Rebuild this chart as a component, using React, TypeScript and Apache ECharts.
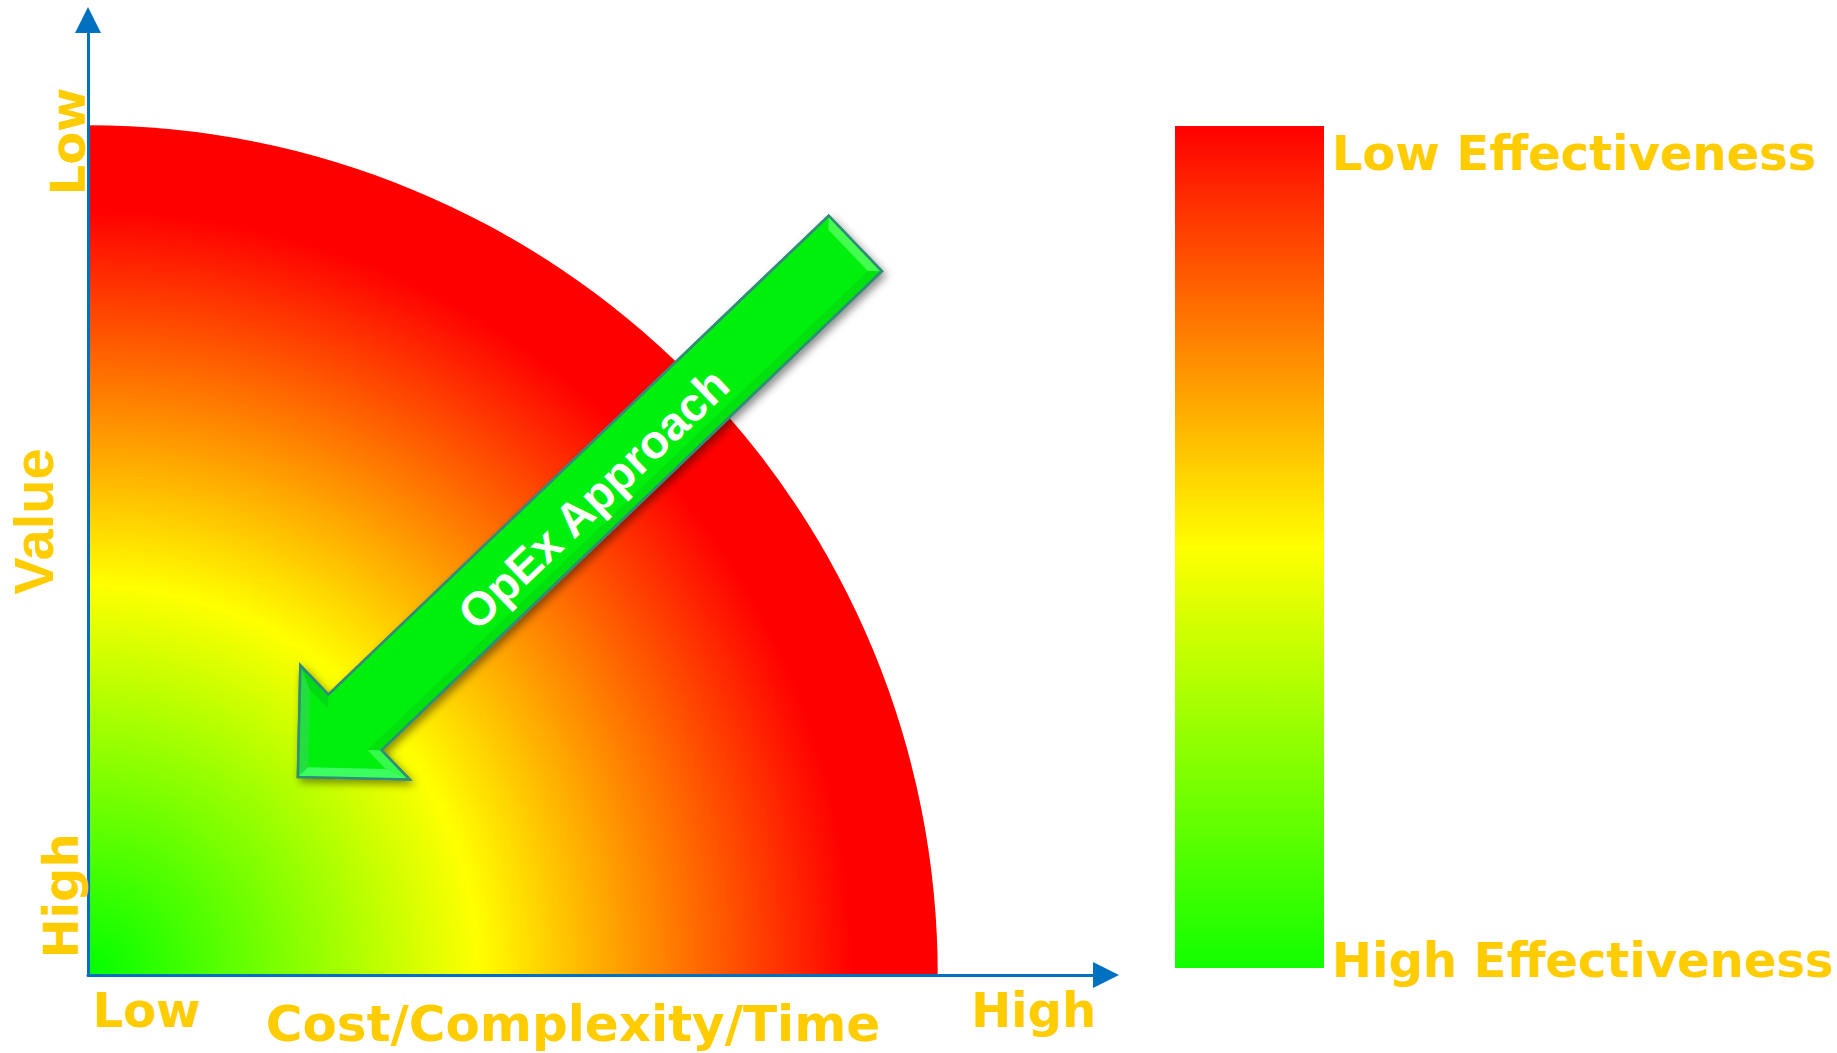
import React, { useEffect, useRef } from 'react';
import * as echarts from 'echarts';

// ---------- data (axis units: percent of the quarter-circle radius) ----------
const xAxisMax = 119.8;
const yAxisMax = 112.4;
const xTickValues = [6.9, 111.3];
const xTickLabels = ['Low', 'High'];
const yTickValues = [9.3, 98.1];
const yTickLabels = ['High', 'Low'];
const xAxisName = 'Cost/Complexity/Time';
const yAxisName = 'Value';

// quarter circle: [centerX, centerY, radius]
const frontier = [[0, 0, 100]];
const frontierStops: [number, string][] = [
  [0, '#00ff00'],
  [0.46, '#ffff00'],
  [0.9, '#ff0000'],
  [1, '#ff0000'],
];

// arrow: [tailX, tailY, tipX, tipY]
const arrowData = [[90.3, 86.1, 24.7, 23.3]];
const arrowLabel = 'OpEx Approach';

// legend bar
const legendLabels = ['Low Effectiveness', 'High Effectiveness'];
const legendStops: [number, string][] = [
  [0, '#ff0000'],
  [0.5, '#ffff00'],
  [1, '#11ff00'],
];

// ---------- styles ----------
const GOLD = '#ffcc00';
const BLUE = '#0070c0';
const DEJAVU = '"DejaVu Sans", Verdana, sans-serif';
const ARIAL = '"Liberation Sans", Arial, Helvetica, sans-serif';

function nearestIndex(values: number[], v: number) {
  let best = 0;
  for (let i = 1; i < values.length; i++) {
    if (Math.abs(values[i] - v) < Math.abs(values[best] - v)) best = i;
  }
  return best;
}

export default function App() {
  const ref = useRef<HTMLDivElement>(null);

  useEffect(() => {
    if (!ref.current) return;
    const chart = echarts.init(ref.current, undefined, { renderer: 'svg' });

    const labelRich = {
      a: { color: GOLD, fontFamily: DEJAVU, fontWeight: 'bold', fontSize: 48, lineHeight: 48 },
      b: { color: GOLD, fontFamily: DEJAVU, fontWeight: 'bold', fontSize: 48, lineHeight: 62 },
    };

    const option: any = {
      animation: false,
      backgroundColor: '#ffffff',
      grid: {
        left: 88,
        top: 20,
        width: 1018,
        height: 955,
        containLabel: false,
        outerBoundsMode: 'none',
      },
      xAxis: {
        type: 'value',
        min: 0,
        max: xAxisMax,
        z: 5,
        name: xAxisName,
        nameLocation: 'middle',
        nameGap: 24,
        nameMoveOverlap: false,
        nameTextStyle: {
          color: GOLD,
          fontFamily: DEJAVU,
          fontWeight: 'bold',
          fontSize: 50,
          padding: [0, 48, 0, 0],
        },
        axisLine: {
          show: true,
          onZero: false,
          symbol: ['none', 'triangle'],
          symbolSize: [26, 26],
          lineStyle: { color: BLUE, width: 3 },
        },
        axisTick: { show: false },
        splitLine: { show: false },
        axisLabel: {
          show: true,
          customValues: xTickValues,
          formatter: (v: number) => xTickLabels[nearestIndex(xTickValues, v)],
          color: GOLD,
          fontFamily: DEJAVU,
          fontWeight: 'bold',
          fontSize: 48,
          margin: 11,
        },
      },
      yAxis: {
        type: 'value',
        min: 0,
        max: yAxisMax,
        z: 5,
        name: yAxisName,
        nameLocation: 'middle',
        nameRotate: 90,
        nameGap: 27,
        nameMoveOverlap: false,
        nameTextStyle: {
          color: GOLD,
          fontFamily: ARIAL,
          fontWeight: 'bold',
          fontSize: 56,
          padding: [0, 48, 0, 0],
        },
        axisLine: {
          show: true,
          onZero: false,
          symbol: ['none', 'triangle'],
          symbolSize: [26, 26],
          lineStyle: { color: BLUE, width: 3 },
        },
        axisTick: { show: false },
        splitLine: { show: false },
        axisLabel: {
          show: true,
          rotate: 90,
          customValues: yTickValues,
          formatter: (v: number) => {
            const i = nearestIndex(yTickValues, v);
            return i === 0 ? `{b|${yTickLabels[i]}}` : `{a|${yTickLabels[i]}}`;
          },
          rich: labelRich,
          color: GOLD,
          fontFamily: DEJAVU,
          fontWeight: 'bold',
          fontSize: 48,
          margin: -4,
        },
      },
      series: [
        {
          type: 'custom',
          name: 'frontier',
          coordinateSystem: 'cartesian2d',
          z: 1,
          silent: true,
          clip: false,
          encode: { x: 0, y: 1 },
          data: frontier,
          renderItem: (params: any, api: any) => {
            const c = api.coord([api.value(0), api.value(1)]);
            const r = api.size([api.value(2), 0])[0];
            return {
              type: 'sector',
              shape: {
                cx: c[0],
                cy: c[1],
                r0: 0,
                r,
                startAngle: -Math.PI / 2,
                endAngle: 0,
                clockwise: true,
              },
              style: {
                fill: new echarts.graphic.RadialGradient(
                  c[0],
                  c[1],
                  r,
                  frontierStops.map(([offset, color]) => ({ offset, color })),
                  true
                ),
              },
            };
          },
        },
        {
          type: 'custom',
          name: 'arrow',
          coordinateSystem: 'cartesian2d',
          z: 10,
          silent: true,
          clip: false,
          encode: { x: [0, 2], y: [1, 3] },
          data: arrowData,
          renderItem: (params: any, api: any) => {
            const tail = api.coord([api.value(0), api.value(1)]);
            const tip = api.coord([api.value(2), api.value(3)]);
            const dx = tail[0] - tip[0];
            const dy = tail[1] - tip[1];
            const L = Math.hypot(dx, dy);
            const u = [dx / L, dy / L];
            const v = [-u[1], u[0]];
            const P = (a: number, b: number) => [
              tip[0] + a * u[0] + b * v[0],
              tip[1] + a * u[1] + b * v[1],
            ];
            const hl = 79; // head length
            const hw = 79; // head half width
            const sw = 38.5; // shaft half width
            const b = 10; // bevel
            const s2 = Math.SQRT2;

            const A = P(0, 0);
            const H1 = P(hl, -hw);
            const H2 = P(hl, hw);
            const S1 = P(hl, -sw);
            const S2 = P(hl, sw);
            const T1 = P(L, -sw);
            const T2 = P(L, sw);

            const Ai = P(b * s2, 0);
            const H1i = P(hl - b, -(hw - b - b * s2));
            const H2i = P(hl - b, hw - b - b * s2);
            const S1i = P(hl - b, -sw + b);
            const S2i = P(hl - b, sw - b);
            const T1i = P(L - b, -sw + b);
            const T2i = P(L - b, sw - b);

            const outline = [A, H2, S2, T2, T1, S1, H1];
            const ang = Math.atan2(-u[1], u[0]);
            const tc = P(L * 0.526, 3);

            const facet = (pts: number[][], fill: string) => ({
              type: 'polygon',
              shape: { points: pts },
              style: { fill, stroke: 'none' },
            });

            return {
              type: 'group',
              children: [
                {
                  type: 'polygon',
                  shape: { points: outline },
                  style: {
                    fill: '#05f00f',
                    stroke: '#2f8f74',
                    lineWidth: 2.5,
                    lineJoin: 'miter',
                    shadowBlur: 8,
                    shadowOffsetX: 3,
                    shadowOffsetY: 4,
                    shadowColor: 'rgba(0,0,0,0.45)',
                  },
                },
                facet([T1, T2, T2i, T1i], 'rgba(80,255,90,0.85)'),
                facet([A, H1, H1i, Ai], 'rgba(40,220,70,0.85)'),
                facet([A, Ai, H2i, H2], 'rgba(70,255,110,0.85)'),
                facet([H1, S1, S1i, H1i], 'rgba(0,170,40,0.3)'),
                facet([S2, H2, H2i, S2i], 'rgba(90,255,120,0.6)'),
                facet([S2, T2, T2i, S2i], 'rgba(0,140,20,0.15)'),
                {
                  type: 'polygon',
                  shape: { points: outline },
                  style: { fill: 'none', stroke: '#2f8f74', lineWidth: 2.5, lineJoin: 'miter' },
                },
                {
                  type: 'text',
                  x: tc[0],
                  y: tc[1],
                  rotation: ang,
                  style: {
                    text: arrowLabel,
                    fill: '#ffffff',
                    fontSize: 47,
                    fontWeight: 'bold',
                    fontFamily: ARIAL,
                    align: 'center',
                    verticalAlign: 'middle',
                  },
                },
              ],
            };
          },
        },
      ],
      graphic: [
        {
          type: 'rect',
          silent: true,
          shape: { x: 1175, y: 126, width: 149, height: 842 },
          style: {
            fill: new echarts.graphic.LinearGradient(
              0,
              0,
              0,
              1,
              legendStops.map(([offset, color]) => ({ offset, color }))
            ),
          },
        },
        {
          type: 'text',
          silent: true,
          x: 1332,
          y: 152.5,
          style: {
            text: legendLabels[0],
            fill: GOLD,
            fontSize: 48,
            fontWeight: 'bold',
            fontFamily: DEJAVU,
            align: 'left',
            verticalAlign: 'middle',
          },
        },
        {
          type: 'text',
          silent: true,
          x: 1332,
          y: 959.5,
          style: {
            text: legendLabels[1],
            fill: GOLD,
            fontSize: 48,
            fontWeight: 'bold',
            fontFamily: DEJAVU,
            align: 'left',
            verticalAlign: 'middle',
          },
        },
      ],
    };

    chart.setOption(option);
    return () => {
      chart.dispose();
    };
  }, []);

  return (
    <div
      ref={ref}
      style={{ position: 'absolute', left: 0, top: 0, width: 1837, height: 1053, background: '#fff' }}
    />
  );
}
